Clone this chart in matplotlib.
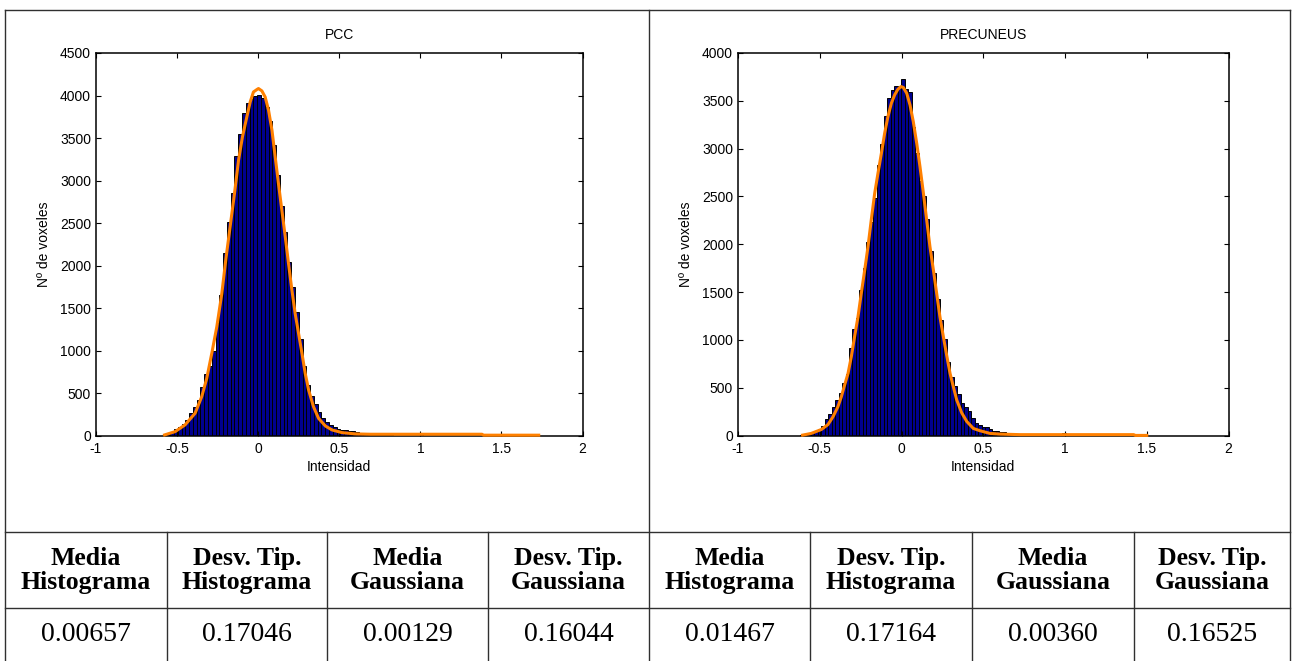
"""Histogramas de intensidad (PCC y PRECUNEUS) con ajuste gaussiano y tabla de estadisticos."""

import matplotlib.pyplot as plt
import numpy as np

# ---- datos ----
regions = ["PCC", "PRECUNEUS"]

# PCC: 100 bins, centro del primer bin y anchura
pcc_bin_start = -0.577
pcc_bin_width = 0.0233
pcc_counts = [
    15, 25, 45, 72, 102, 140, 185, 265, 338, 420,
    570, 730, 820, 1000, 1320, 1650, 2150, 2510, 2850, 3290,
    3550, 3790, 3915, 3955, 3990, 4010, 3970, 3860, 3700, 3420,
    3070, 2700, 2400, 2040, 1750, 1450, 1140, 820, 600, 470,
    370, 280, 205, 160, 120, 105, 77, 68, 60, 59,
    52, 42, 33, 23, 12, 8, 6, 4, 3, 2,
    2, 1, 1, 1, 0, 1, 0, 0, 25, 0,
    0, 1, 0, 0, 0, 0, 1, 0, 0, 0,
    0, 0, 0, 0, 0, 0, 0, 0, 0, 0,
    0, 0, 0, 0, 0, 0, 0, 0, 0, 1]
pcc_fit_x = [-0.577, -0.512, -0.451, -0.389, -0.348, -0.317, -0.286, -0.255, -0.224, -0.200,
             -0.173, -0.146, -0.121, -0.097, -0.070, -0.049, -0.029, -0.008, 0.002, 0.023,
             0.043, 0.064, 0.085, 0.105, 0.125, 0.146, 0.167, 0.187, 0.208, 0.228,
             0.249, 0.270, 0.290, 0.311, 0.341, 0.372, 0.414, 0.455, 0.517, 0.599,
             0.691, 1.38, 1.39, 1.73]
pcc_fit_y = [8, 47, 126, 263, 458, 674, 968, 1281, 1673, 2064,
             2456, 2848, 3239, 3513, 3748, 3925, 4042, 4070, 4082, 4054,
             3983, 3827, 3592, 3278, 2966, 2652, 2338, 2026, 1712, 1438,
             1203, 968, 733, 537, 341, 204, 114, 67, 35, 20,
             16, 16, 5, 5]

# PRECUNEUS
pre_bin_start = -0.610
pre_bin_width = 0.0214
pre_counts = [
    5, 5, 15, 25, 45, 65, 105, 170, 225, 300,
    370, 445, 555, 640, 920, 1115, 1230, 1520, 1750, 2020,
    2237, 2480, 2830, 3050, 3340, 3530, 3610, 3660, 3640, 3725,
    3620, 3590, 3230, 2950, 2660, 2500, 2260, 1930, 1700, 1430,
    1210, 1010, 770, 615, 520, 440, 340, 298, 260, 180,
    130, 108, 95, 85, 68, 52, 45, 42, 35, 25,
    15, 8, 5, 3, 2, 2, 1, 1, 0, 1,
    0, 0, 0, 0, 0, 30, 0, 0, 1, 0,
    0, 0, 0, 0, 0, 0, 0, 0, 0, 0,
    0, 0, 0, 0, 0, 0, 0, 0, 0, 1]
pre_fit_x = [-0.605, -0.552, -0.490, -0.450, -0.419, -0.389, -0.368, -0.348, -0.327, -0.307,
             -0.287, -0.266, -0.246, -0.225, -0.205, -0.185, -0.164, -0.144, -0.123, -0.103,
             -0.083, -0.062, -0.042, -0.022, -0.003, 0.011, 0.032, 0.052, 0.072, 0.093,
             0.113, 0.134, 0.154, 0.174, 0.195, 0.215, 0.235, 0.256, 0.276, 0.297,
             0.317, 0.338, 0.368, 0.399, 0.439, 0.480, 0.541, 0.602, 0.725, 1.42,
             1.43, 1.50]
pre_fit_y = [5, 23, 64, 115, 197, 302, 406, 528, 650, 824,
             1034, 1243, 1487, 1731, 1975, 2254, 2533, 2742, 2951, 3161,
             3335, 3475, 3562, 3621, 3649, 3640, 3579, 3457, 3283, 3056,
             2812, 2533, 2254, 1975, 1731, 1487, 1243, 1034, 842, 650,
             511, 371, 239, 148, 75, 51, 23, 16, 10, 10,
             2, 2]

xticks = [-1, -0.5, 0, 0.5, 1, 1.5, 2]
xtick_labels = ["-1", "-0.5", "0", "0.5", "1", "1.5", "2"]
pcc_yticks = [0, 500, 1000, 1500, 2000, 2500, 3000, 3500, 4000, 4500]
pre_yticks = [0, 500, 1000, 1500, 2000, 2500, 3000, 3500, 4000]

table_headers = ["Media\nHistograma", "Desv. Tip.\nHistograma", "Media\nGaussiana", "Desv. Tip.\nGaussiana"]
pcc_stats = ["0.00657", "0.17046", "0.00129", "0.16044"]
pre_stats = ["0.01467", "0.17164", "0.00360", "0.16525"]

# ---- estilo / maquetacion (pixeles de la imagen) ----
W, H = 1292, 661
BAR = "#00008F"
FIT = "#FF8000"
RULE = "#303030"
SANS = "Liberation Sans"
SERIF = "Liberation Serif"
plt.rcParams["font.family"] = SANS

fig = plt.figure(figsize=(W / 100, H / 100), dpi=100, facecolor="white")

frame = fig.add_axes([0, 0, 1, 1])
frame.set_xlim(0, W)
frame.set_ylim(H, 0)
frame.axis("off")

col_x = [5, 167, 327, 488, 649, 810, 972, 1134, 1290]
top_y, head_y, val_y = 10, 532, 608
for y in (top_y, head_y, val_y):
    frame.plot([col_x[0], col_x[-1]], [y, y], color=RULE, lw=1.0)
for x in col_x:
    y0 = top_y if x in (col_x[0], col_x[4], col_x[-1]) else head_y
    frame.plot([x, x], [y0, H + 5], color=RULE, lw=1.0)

panels = [
    (regions[0], pcc_bin_start, pcc_bin_width, pcc_counts, pcc_fit_x, pcc_fit_y,
     pcc_yticks, pcc_stats, (96, 582.5), 43.5),
    (regions[1], pre_bin_start, pre_bin_width, pre_counts, pre_fit_x, pre_fit_y,
     pre_yticks, pre_stats, (738, 1228.5), 685.5),
]

ax_top, ax_bot = 53, 435.6
for i, (name, start, width, counts, fx, fy, yticks, stats, (left, right), ylab_x) in enumerate(panels):
    ax = fig.add_axes([left / W, 1 - ax_bot / H, (right - left) / W, (ax_bot - ax_top) / H])
    centers = start + width * np.arange(len(counts))
    ax.bar(centers, counts, width=width, color=BAR, edgecolor="black", linewidth=0.7)
    ax.plot(fx, fy, color=FIT, lw=2.2, clip_on=False, zorder=3, solid_joinstyle="round")

    ax.set_xlim(-1, 2)
    ax.set_ylim(0, yticks[-1])
    ax.set_xticks(xticks)
    ax.set_xticklabels(xtick_labels)
    ax.set_yticks(yticks)
    ax.set_yticklabels([str(t) for t in yticks])
    ax.tick_params(direction="in", length=3.6, width=0.8, top=True, right=True,
                   labelsize=10, colors="black")
    ax.tick_params(axis="x", pad=4.3)
    ax.tick_params(axis="y", pad=3.6)
    for s in ax.spines.values():
        s.set_linewidth(1.1)

    cx = (left + right) / 2
    frame.text(cx, 35, name, ha="center", va="center", fontsize=10)
    frame.text(cx, 467, "Intensidad", ha="center", va="center", fontsize=10)
    frame.text(ylab_x, (ax_top + ax_bot) / 2, "Nº de voxeles", ha="center", va="center",
               rotation=90, fontsize=10)

    for j, (header, value) in enumerate(zip(table_headers, stats)):
        tx = (col_x[4 * i + j] + col_x[4 * i + j + 1]) / 2
        for n, line in enumerate(header.split("\n")):
            frame.text(tx, 565 + 24 * n, line, ha="center", va="baseline",
                       fontsize=18.5, fontweight="bold", family=SERIF)
        frame.text(tx, 641, value, ha="center", va="baseline", fontsize=20, family=SERIF)

fig.savefig("out.png", dpi=100, facecolor="white")
